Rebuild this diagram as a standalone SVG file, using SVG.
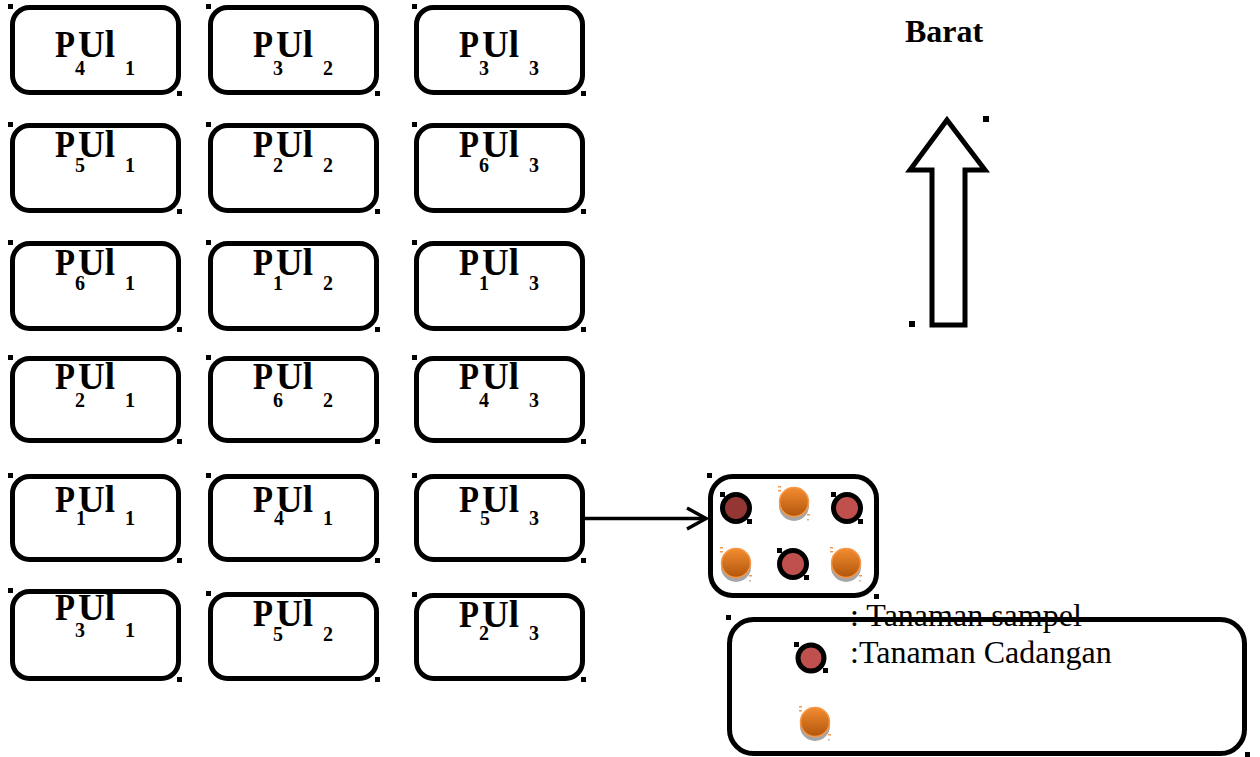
<svg xmlns="http://www.w3.org/2000/svg" width="1260" height="757" viewBox="0 0 1260 757">
  <style>
    .plot { fill: #ffffff; stroke: #000000; stroke-width: 5; }
    .hdl { fill: #000000; }
    .lbl { font-family: "Liberation Serif", "Times New Roman", serif; font-weight: bold; fill: #000000; }
    .big { font-size: 37px; }
    .sub { font-size: 20px; }
    .leg { font-family: "Liberation Serif", "Times New Roman", serif; font-size: 32px; fill: #000000; }
    .ring { stroke: #000000; stroke-width: 5; }
    .line { fill: none; stroke: #000000; stroke-width: 3.5; }
  </style>
  <defs>
    <linearGradient id="orangeFill" x1="0" y1="0" x2="0" y2="1">
      <stop offset="0" stop-color="#F28C30"/>
      <stop offset="1" stop-color="#B2560C"/>
    </linearGradient>
    <!-- spare plant: orange ball with grey drop shadow and selection ticks -->
    <g id="spare">
      <circle cx="0" cy="4" r="15" fill="#A6A6A6"/>
      <circle cx="0" cy="0" r="14.5" fill="url(#orangeFill)" stroke="#F79646" stroke-width="1.5"/>
      <rect x="-16" y="-16" width="3" height="1.5" fill="#F79646"/>
      <rect x="-16" y="-12" width="3" height="1.5" fill="#F79646"/>
      <rect x="13" y="12" width="3" height="1.5" fill="#F79646"/>
      <rect x="13" y="17" width="2" height="1.5" fill="#BBBBBB"/>
    </g>
    <!-- selection handles of a ringed sample plant -->
    <g id="ringHdl">
      <rect x="-16" y="-16" width="5" height="5" fill="#000000"/>
      <rect x="11" y="11" width="5" height="5" fill="#000000"/>
    </g>
  </defs>

  <!-- plot grid: 6 rows x 3 columns; label = P (treatment) + Ul (replicate) with subscripts -->
  <g id="plot-r1c1"><rect class="plot" x="12.5" y="7.5" width="166" height="85" rx="17"/><rect class="hdl" x="8" y="4" width="5" height="5"/><rect class="hdl" x="177" y="91" width="5" height="5"/>
    <text class="lbl"><tspan class="big" x="55" y="57" textLength="20" lengthAdjust="spacingAndGlyphs">P</tspan><tspan class="sub" x="75" y="75">4</tspan><tspan class="big" x="78" y="57">Ul</tspan><tspan class="sub" x="125" y="75">1</tspan></text></g>
  <g id="plot-r1c2"><rect class="plot" x="210.5" y="7.5" width="166" height="85" rx="17"/><rect class="hdl" x="206" y="4" width="5" height="5"/><rect class="hdl" x="375" y="91" width="5" height="5"/>
    <text class="lbl"><tspan class="big" x="253" y="57" textLength="20" lengthAdjust="spacingAndGlyphs">P</tspan><tspan class="sub" x="273" y="75">3</tspan><tspan class="big" x="276" y="57">Ul</tspan><tspan class="sub" x="323" y="75">2</tspan></text></g>
  <g id="plot-r1c3"><rect class="plot" x="416.5" y="7.5" width="166" height="85" rx="17"/><rect class="hdl" x="412" y="4" width="5" height="5"/><rect class="hdl" x="581" y="91" width="5" height="5"/>
    <text class="lbl"><tspan class="big" x="459" y="57" textLength="20" lengthAdjust="spacingAndGlyphs">P</tspan><tspan class="sub" x="479" y="75">3</tspan><tspan class="big" x="482" y="57">Ul</tspan><tspan class="sub" x="529" y="75">3</tspan></text></g>

  <g id="plot-r2c1"><rect class="plot" x="12.5" y="125.5" width="166" height="85" rx="17"/><rect class="hdl" x="8" y="122" width="5" height="5"/><rect class="hdl" x="177" y="209" width="5" height="5"/>
    <text class="lbl"><tspan class="big" x="55" y="157" textLength="20" lengthAdjust="spacingAndGlyphs">P</tspan><tspan class="sub" x="75" y="172">5</tspan><tspan class="big" x="78" y="157">Ul</tspan><tspan class="sub" x="125" y="172">1</tspan></text></g>
  <g id="plot-r2c2"><rect class="plot" x="210.5" y="125.5" width="166" height="85" rx="17"/><rect class="hdl" x="206" y="122" width="5" height="5"/><rect class="hdl" x="375" y="209" width="5" height="5"/>
    <text class="lbl"><tspan class="big" x="253" y="157" textLength="20" lengthAdjust="spacingAndGlyphs">P</tspan><tspan class="sub" x="273" y="172">2</tspan><tspan class="big" x="276" y="157">Ul</tspan><tspan class="sub" x="323" y="172">2</tspan></text></g>
  <g id="plot-r2c3"><rect class="plot" x="416.5" y="125.5" width="166" height="85" rx="17"/><rect class="hdl" x="412" y="122" width="5" height="5"/><rect class="hdl" x="581" y="209" width="5" height="5"/>
    <text class="lbl"><tspan class="big" x="459" y="157" textLength="20" lengthAdjust="spacingAndGlyphs">P</tspan><tspan class="sub" x="479" y="172">6</tspan><tspan class="big" x="482" y="157">Ul</tspan><tspan class="sub" x="529" y="172">3</tspan></text></g>

  <g id="plot-r3c1"><rect class="plot" x="12.5" y="243.5" width="166" height="85" rx="17"/><rect class="hdl" x="8" y="240" width="5" height="5"/><rect class="hdl" x="177" y="327" width="5" height="5"/>
    <text class="lbl"><tspan class="big" x="55" y="275" textLength="20" lengthAdjust="spacingAndGlyphs">P</tspan><tspan class="sub" x="75" y="290">6</tspan><tspan class="big" x="78" y="275">Ul</tspan><tspan class="sub" x="125" y="290">1</tspan></text></g>
  <g id="plot-r3c2"><rect class="plot" x="210.5" y="243.5" width="166" height="85" rx="17"/><rect class="hdl" x="206" y="240" width="5" height="5"/><rect class="hdl" x="375" y="327" width="5" height="5"/>
    <text class="lbl"><tspan class="big" x="253" y="275" textLength="20" lengthAdjust="spacingAndGlyphs">P</tspan><tspan class="sub" x="273" y="290">1</tspan><tspan class="big" x="276" y="275">Ul</tspan><tspan class="sub" x="323" y="290">2</tspan></text></g>
  <g id="plot-r3c3"><rect class="plot" x="416.5" y="243.5" width="166" height="85" rx="17"/><rect class="hdl" x="412" y="240" width="5" height="5"/><rect class="hdl" x="581" y="327" width="5" height="5"/>
    <text class="lbl"><tspan class="big" x="459" y="275" textLength="20" lengthAdjust="spacingAndGlyphs">P</tspan><tspan class="sub" x="479" y="290">1</tspan><tspan class="big" x="482" y="275">Ul</tspan><tspan class="sub" x="529" y="290">3</tspan></text></g>

  <g id="plot-r4c1"><rect class="plot" x="12.5" y="358.5" width="166" height="82" rx="17"/><rect class="hdl" x="8" y="355" width="5" height="5"/><rect class="hdl" x="177" y="439" width="5" height="5"/>
    <text class="lbl"><tspan class="big" x="55" y="389" textLength="20" lengthAdjust="spacingAndGlyphs">P</tspan><tspan class="sub" x="75" y="407">2</tspan><tspan class="big" x="78" y="389">Ul</tspan><tspan class="sub" x="125" y="407">1</tspan></text></g>
  <g id="plot-r4c2"><rect class="plot" x="210.5" y="358.5" width="166" height="82" rx="17"/><rect class="hdl" x="206" y="355" width="5" height="5"/><rect class="hdl" x="375" y="439" width="5" height="5"/>
    <text class="lbl"><tspan class="big" x="253" y="389" textLength="20" lengthAdjust="spacingAndGlyphs">P</tspan><tspan class="sub" x="273" y="407">6</tspan><tspan class="big" x="276" y="389">Ul</tspan><tspan class="sub" x="323" y="407">2</tspan></text></g>
  <g id="plot-r4c3"><rect class="plot" x="416.5" y="358.5" width="166" height="82" rx="17"/><rect class="hdl" x="412" y="355" width="5" height="5"/><rect class="hdl" x="581" y="439" width="5" height="5"/>
    <text class="lbl"><tspan class="big" x="459" y="389" textLength="20" lengthAdjust="spacingAndGlyphs">P</tspan><tspan class="sub" x="479" y="407">4</tspan><tspan class="big" x="482" y="389">Ul</tspan><tspan class="sub" x="529" y="407">3</tspan></text></g>

  <g id="plot-r5c1"><rect class="plot" x="12.5" y="476.5" width="166" height="83" rx="17"/><rect class="hdl" x="8" y="473" width="5" height="5"/><rect class="hdl" x="177" y="558" width="5" height="5"/>
    <text class="lbl"><tspan class="big" x="55" y="512" textLength="20" lengthAdjust="spacingAndGlyphs">P</tspan><tspan class="sub" x="76" y="525">1</tspan><tspan class="big" x="78" y="512">Ul</tspan><tspan class="sub" x="125" y="525">1</tspan></text></g>
  <g id="plot-r5c2"><rect class="plot" x="210.5" y="476.5" width="166" height="83" rx="17"/><rect class="hdl" x="206" y="473" width="5" height="5"/><rect class="hdl" x="375" y="558" width="5" height="5"/>
    <text class="lbl"><tspan class="big" x="253" y="512" textLength="20" lengthAdjust="spacingAndGlyphs">P</tspan><tspan class="sub" x="274" y="525">4</tspan><tspan class="big" x="276" y="512">Ul</tspan><tspan class="sub" x="323" y="525">1</tspan></text></g>
  <g id="plot-r5c3"><rect class="plot" x="416.5" y="476.5" width="166" height="83" rx="17"/><rect class="hdl" x="412" y="473" width="5" height="5"/><rect class="hdl" x="581" y="558" width="5" height="5"/>
    <text class="lbl"><tspan class="big" x="459" y="512" textLength="20" lengthAdjust="spacingAndGlyphs">P</tspan><tspan class="sub" x="480" y="525">5</tspan><tspan class="big" x="482" y="512">Ul</tspan><tspan class="sub" x="529" y="525">3</tspan></text></g>

  <g id="plot-r6c1"><rect class="plot" x="12.5" y="591.5" width="166" height="87" rx="17"/><rect class="hdl" x="8" y="588" width="5" height="5"/><rect class="hdl" x="177" y="677" width="5" height="5"/>
    <text class="lbl"><tspan class="big" x="55" y="620" textLength="20" lengthAdjust="spacingAndGlyphs">P</tspan><tspan class="sub" x="75" y="637">3</tspan><tspan class="big" x="78" y="620">Ul</tspan><tspan class="sub" x="125" y="637">1</tspan></text></g>
  <g id="plot-r6c2"><rect class="plot" x="210.5" y="594.5" width="166" height="84" rx="17"/><rect class="hdl" x="206" y="591" width="5" height="5"/><rect class="hdl" x="375" y="677" width="5" height="5"/>
    <text class="lbl"><tspan class="big" x="253" y="626" textLength="20" lengthAdjust="spacingAndGlyphs">P</tspan><tspan class="sub" x="273" y="641">5</tspan><tspan class="big" x="276" y="626">Ul</tspan><tspan class="sub" x="323" y="641">2</tspan></text></g>
  <g id="plot-r6c3"><rect class="plot" x="416.5" y="595.5" width="166" height="83" rx="17"/><rect class="hdl" x="412" y="592" width="5" height="5"/><rect class="hdl" x="581" y="677" width="5" height="5"/>
    <text class="lbl"><tspan class="big" x="459" y="627" textLength="20" lengthAdjust="spacingAndGlyphs">P</tspan><tspan class="sub" x="479" y="640">2</tspan><tspan class="big" x="482" y="627">Ul</tspan><tspan class="sub" x="529" y="640">3</tspan></text></g>

  <!-- north marker -->
  <g id="compass">
    <text class="lbl" x="905" y="42" font-size="32">Barat</text>
    <path d="M947,120 L985,170 L965,170 L965,325 L932,325 L932,170 L910,170 Z" fill="#ffffff" stroke="#000000" stroke-width="5" stroke-linejoin="miter"/>
    <rect class="hdl" x="983" y="116" width="6" height="6"/>
    <rect class="hdl" x="909" y="321" width="6" height="6"/>
  </g>

  <!-- connector from plot P5Ul3 to its planting layout -->
  <g id="connectors">
    <line class="line" x1="585" y1="518.5" x2="706" y2="518.5"/>
    <polyline class="line" points="687,508 706,518.5 687,529"/>
  </g>

  <!-- planting layout within one plot -->
  <g id="layout">
    <rect class="plot" x="710.5" y="476.5" width="166" height="119" rx="22"/>
    <rect class="hdl" x="707" y="473" width="5" height="5"/>
    <rect class="hdl" x="874" y="594" width="5" height="5"/>
    <circle class="ring" cx="736" cy="508" r="13.5" fill="#943634"/><use href="#ringHdl" x="736" y="508"/>
    <use href="#spare" x="794" y="502"/>
    <circle class="ring" cx="847" cy="508" r="13.5" fill="#C0504D"/><use href="#ringHdl" x="847" y="508"/>
    <use href="#spare" x="736" y="563"/>
    <circle class="ring" cx="793" cy="564" r="13.5" fill="#C0504D"/><use href="#ringHdl" x="793" y="564"/>
    <use href="#spare" x="846" y="563"/>
  </g>

  <!-- legend -->
  <g id="legend">
    <text class="leg" x="850" y="626">: Tanaman sampel</text>
    <rect class="plot" x="729.5" y="619.5" width="515" height="134" rx="24" style="fill:none"/>
    <rect class="hdl" x="726" y="615" width="5" height="5"/>
    <rect class="hdl" x="1245" y="752" width="5" height="5"/>
    <circle class="ring" cx="811" cy="658" r="13" fill="#C0504D"/>
    <rect class="hdl" x="794" y="642" width="5" height="5"/>
    <rect class="hdl" x="823" y="668" width="5" height="5"/>
    <text class="leg" x="850" y="663">:Tanaman Cadangan</text>
    <use href="#spare" x="815" y="722"/>
  </g>
</svg>
